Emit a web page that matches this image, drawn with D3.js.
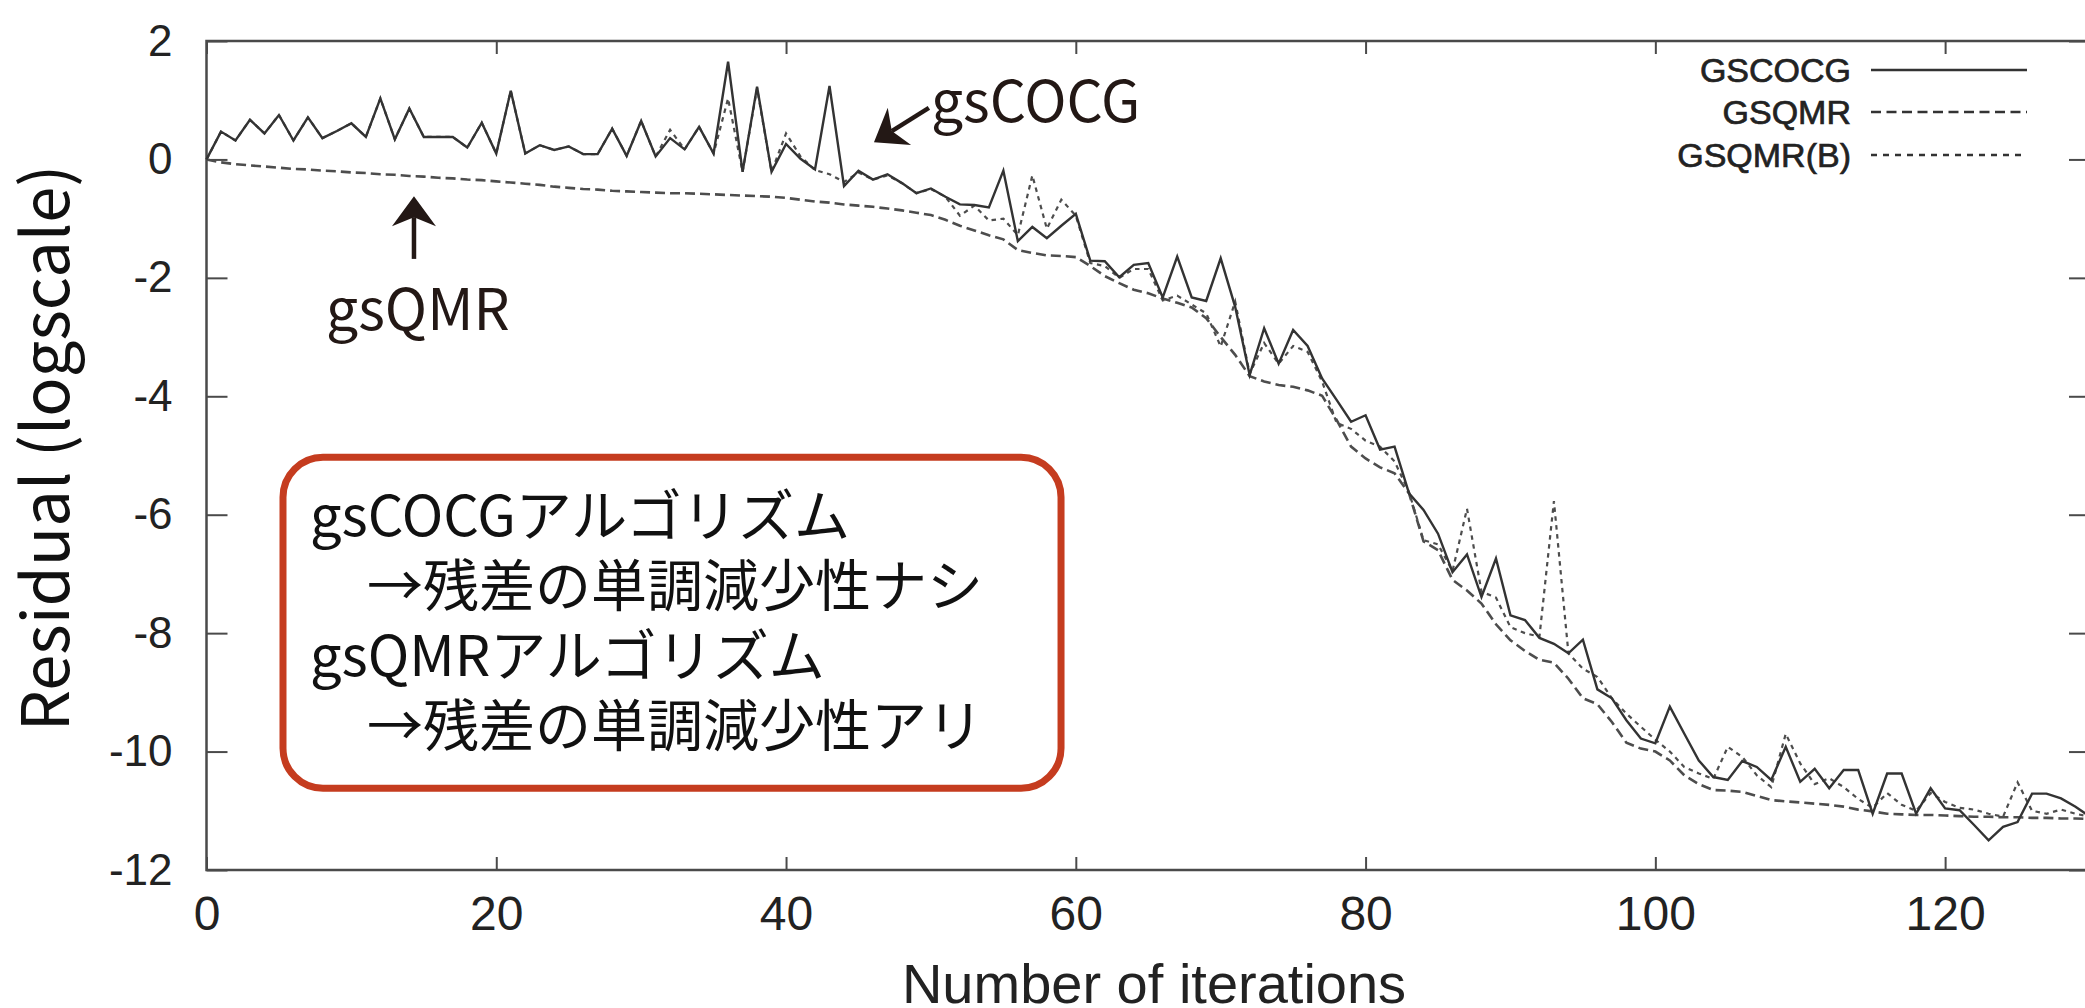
<!DOCTYPE html>
<html><head><meta charset="utf-8">
<script src="https://cdn.jsdelivr.net/npm/d3@7"></script>
<style>
html,body{margin:0;padding:0;background:#fff;}
svg{display:block;}
</style>
</head><body>
<svg id="chart" width="2085" height="1008"></svg>
<script>
// ---------- data ----------
const seriesNames = ["GSCOCG", "GSQMR", "GSQMR(B)"];
const xTicks = [0, 20, 40, 60, 80, 100, 120];
const yTicks = [-12, -10, -8, -6, -4, -2, 0, 2];
const xLabel = "Number of iterations";
const yLabel = "Residual (logscale)";

const gscocg = [
0.00,0.47,0.32,0.67,0.44,0.75,0.32,0.71,0.36,0.48,
0.61,0.38,1.03,0.34,0.86,0.38,0.38,0.38,0.20,0.62,
0.10,1.16,0.10,0.24,0.16,0.22,0.09,0.09,0.52,0.06,
0.65,0.05,0.36,0.17,0.55,0.10,1.65,-0.21,1.23,-0.21,
0.26,0.01,-0.17,1.24,-0.45,-0.19,-0.34,-0.25,-0.40,-0.57,
-0.49,-0.63,-0.76,-0.77,-0.81,-0.19,-1.38,-1.14,-1.33,-1.12,
-0.92,-1.71,-1.72,-1.99,-1.78,-1.75,-2.33,-1.64,-2.33,-2.39,
-1.67,-2.49,-3.64,-2.85,-3.45,-2.88,-3.15,-3.70,-4.06,-4.43,
-4.32,-4.90,-4.85,-5.64,-5.92,-6.32,-6.97,-6.67,-7.39,-6.74,
-7.70,-7.78,-8.08,-8.18,-8.34,-8.11,-8.95,-9.10,-9.47,-9.78,
-9.86,-9.24,-9.70,-10.15,-10.43,-10.48,-10.16,-10.26,-10.48,-9.92,
-10.51,-10.29,-10.62,-10.31,-10.31,-11.05,-10.37,-10.37,-11.05,-10.62,
-10.96,-10.99,-11.24,-11.50,-11.27,-11.19,-10.71,-10.71,-10.79,-10.93,
-11.10
];
const gsqmr = [
0.00,-0.05,-0.08,-0.10,-0.12,-0.14,-0.16,-0.17,-0.19,-0.20,
-0.22,-0.23,-0.25,-0.26,-0.28,-0.29,-0.31,-0.32,-0.34,-0.35,
-0.37,-0.39,-0.41,-0.43,-0.46,-0.48,-0.50,-0.51,-0.53,-0.54,
-0.55,-0.56,-0.57,-0.57,-0.58,-0.59,-0.60,-0.61,-0.62,-0.63,
-0.65,-0.68,-0.71,-0.73,-0.76,-0.78,-0.80,-0.83,-0.86,-0.90,
-0.94,-1.02,-1.12,-1.20,-1.28,-1.35,-1.53,-1.58,-1.62,-1.63,
-1.65,-1.80,-1.97,-2.09,-2.20,-2.26,-2.35,-2.42,-2.50,-2.68,
-3.00,-3.30,-3.66,-3.75,-3.81,-3.84,-3.90,-3.99,-4.40,-4.85,
-5.05,-5.20,-5.30,-5.64,-6.45,-6.60,-7.10,-7.28,-7.50,-7.85,
-8.12,-8.30,-8.45,-8.50,-8.77,-9.10,-9.20,-9.50,-9.85,-9.95,
-10.00,-10.15,-10.40,-10.55,-10.65,-10.66,-10.68,-10.75,-10.82,-10.84,
-10.86,-10.88,-10.90,-10.93,-10.98,-11.01,-11.05,-11.06,-11.07,-11.07,
-11.08,-11.09,-11.10,-11.10,-11.11,-11.11,-11.12,-11.12,-11.13,-11.13,
-11.14
];
const gsqmrB = [
0.00,0.47,0.32,0.67,0.44,0.75,0.32,0.71,0.36,0.48,
0.61,0.38,1.03,0.34,0.86,0.38,0.38,0.38,0.20,0.62,
0.10,1.16,0.10,0.24,0.16,0.22,0.09,0.09,0.52,0.06,
0.65,0.05,0.50,0.17,0.55,0.10,1.03,-0.21,1.20,-0.21,
0.44,0.05,-0.18,-0.25,-0.38,-0.22,-0.34,-0.27,-0.40,-0.57,
-0.50,-0.63,-0.95,-0.78,-1.03,-1.00,-1.28,-0.27,-1.17,-0.68,
-0.95,-1.75,-1.80,-2.00,-1.85,-1.85,-2.38,-2.30,-2.45,-2.60,
-3.16,-2.40,-3.62,-3.10,-3.45,-3.15,-3.25,-3.75,-4.45,-4.55,
-4.75,-4.85,-5.10,-5.62,-6.43,-6.50,-6.95,-5.90,-7.30,-7.40,
-7.90,-8.00,-8.06,-5.77,-8.34,-8.60,-8.74,-9.10,-9.36,-9.58,
-9.80,-10.00,-10.26,-10.37,-10.46,-9.92,-10.09,-10.40,-10.60,-9.70,
-10.20,-10.55,-10.45,-10.60,-10.80,-10.95,-10.70,-10.90,-11.00,-10.70,
-10.85,-10.95,-10.98,-11.05,-11.10,-10.52,-11.00,-11.05,-10.98,-11.05,
-11.10
];

// annotations (in data units)
const boxLines = ["gsCOCGアルゴリズム", "→残差の単調減少性ナシ", "gsQMRアルゴリズム", "→残差の単調減少性アリ"];
const noteCOCG = {text: "gsCOCG", x: 50.0, y: 0.63, tailX: 49.86, tailY: 0.87, tipX: 46.07, tipY: 0.29};
const noteQMR  = {text: "gsQMR",  x: 8.25, y: -2.88, tailX: 14.32, tailY: -1.68, tipX: 14.32, tipY: -0.62};
const boxArea  = {x0: 5.28, x1: 58.98, y0: -5.03, y1: -10.62};

// ---------- drawing ----------
const svg = d3.select("#chart");
svg.append("rect").attr("width", 2085).attr("height", 1008).attr("fill", "#fff");

const x = d3.scaleLinear().domain([0, 130]).range([206.5, 2090]);
const y = d3.scaleLinear().domain([-12, 2]).range([870, 41]);

const tickFont = "'Liberation Sans', Arial, Helvetica, sans-serif";
const jpFont = "'Noto Sans CJK JP', 'Noto Sans', sans-serif";
const axisColor = "#4a4a4a";

function styleAxis(g, size) {
  g.select(".domain").remove();
  g.selectAll(".tick line").attr("stroke", axisColor).attr("stroke-width", 2);
  g.selectAll(".tick text").attr("fill", "#222").style("font-family", tickFont).style("font-size", size + "px");
}

svg.append("g").attr("transform", `translate(0,${y(-12)})`)
  .call(d3.axisBottom(x).tickValues(xTicks).tickSizeInner(-13).tickSizeOuter(0).tickPadding(26).tickFormat(d => String(d)))
  .call(g => styleAxis(g, 48));
svg.append("g").attr("transform", `translate(0,${y(2)})`)
  .call(d3.axisTop(x).tickValues(xTicks).tickSizeInner(-13).tickSizeOuter(0).tickFormat(""))
  .call(g => styleAxis(g, 48));
svg.append("g").attr("transform", `translate(${x(0)},0)`)
  .call(d3.axisLeft(y).tickValues(yTicks).tickSizeInner(-21).tickSizeOuter(0).tickPadding(34).tickFormat(d => String(d)))
  .call(g => styleAxis(g, 44));
svg.append("g").attr("transform", `translate(${x(130)},0)`)
  .call(d3.axisRight(y).tickValues(yTicks).tickSizeInner(-21).tickSizeOuter(0).tickFormat(""))
  .call(g => styleAxis(g, 44));

// frame
svg.append("rect")
  .attr("x", x(0)).attr("y", y(2))
  .attr("width", x(130) - x(0)).attr("height", y(-12) - y(2))
  .attr("fill", "none").attr("stroke", axisColor).attr("stroke-width", 2.5);

// series
const line = d3.line().x((d, i) => x(i)).y(d => y(d));
const styles = [
  {data: gsqmr,  stroke: "#4d4d4d", width: 2.6, dash: "10,5"},
  {data: gsqmrB, stroke: "#4d4d4d", width: 2.2, dash: "4.5,4.5"},
  {data: gscocg, stroke: "#333333", width: 2.4, dash: null}
];
styles.forEach(s => {
  svg.append("path").datum(s.data)
    .attr("d", line)
    .attr("fill", "none")
    .attr("stroke", s.stroke)
    .attr("stroke-width", s.width)
    .attr("stroke-linejoin", "miter")
    .attr("stroke-dasharray", s.dash);
});

// legend
const legendDash = {"GSCOCG": null, "GSQMR": "10,5.5", "GSQMR(B)": "6,6"};
const legendRows = [70, 112, 155];
seriesNames.forEach((name, k) => {
  svg.append("text").attr("x", 1851).attr("y", legendRows[k] + 12)
    .attr("text-anchor", "end").attr("fill", "#222")
    .attr("stroke", "#222").attr("stroke-width", 0.7)
    .style("font-family", tickFont).style("font-size", "34px")
    .text(name);
  svg.append("line").attr("x1", 1871).attr("x2", 2027)
    .attr("y1", legendRows[k]).attr("y2", legendRows[k])
    .attr("stroke", "#333").attr("stroke-width", 2.4)
    .attr("stroke-dasharray", legendDash[name]);
});

// axis titles
svg.append("text").attr("x", 1154).attr("y", 1003).attr("text-anchor", "middle")
  .attr("fill", "#222").style("font-family", tickFont).style("font-size", "56px")
  .text(xLabel);
svg.append("text").attr("transform", "translate(69,448) rotate(-90)").attr("text-anchor", "middle")
  .attr("fill", "#111").style("font-family", jpFont).style("font-size", "65px").style("font-weight", 400)
  .text(yLabel);

// annotation arrows
const ink = "#231815";
function arrow(tx, ty, hx, hy) {
  const dx = hx - tx, dy = hy - ty, len = Math.hypot(dx, dy);
  const ux = dx / len, uy = dy / len, nx = -uy, ny = ux;
  const L = 30, W = 22, N = 9;
  const bx = hx - L * ux, by = hy - L * uy;
  const mx = hx - (L - N) * ux, my = hy - (L - N) * uy;
  svg.append("line").attr("x1", tx).attr("y1", ty).attr("x2", mx).attr("y2", my)
    .attr("stroke", ink).attr("stroke-width", 4.5);
  svg.append("path")
    .attr("d", `M${hx},${hy} L${bx + W * nx},${by + W * ny} L${mx},${my} L${bx - W * nx},${by - W * ny} Z`)
    .attr("fill", ink);
}
[noteCOCG, noteQMR].forEach(n => {
  arrow(x(n.tailX), y(n.tailY), x(n.tipX), y(n.tipY));
  svg.append("text").attr("x", x(n.x)).attr("y", y(n.y)).attr("fill", ink)
    .style("font-family", jpFont).style("font-size", "57px").style("font-weight", 400)
    .text(n.text);
});

// annotation box
const bx0 = x(boxArea.x0), bx1 = x(boxArea.x1), by0 = y(boxArea.y0), by1 = y(boxArea.y1);
svg.append("rect").attr("x", bx0).attr("y", by0).attr("width", bx1 - bx0).attr("height", by1 - by0)
  .attr("rx", 40).attr("ry", 40)
  .attr("fill", "#fff").attr("stroke", "#c53c1f").attr("stroke-width", 7);
const lineIndent = [27, 84, 27, 84];
boxLines.forEach((t, k) => {
  svg.append("text").attr("x", bx0 + lineIndent[k]).attr("y", by0 + 79 + k * 70)
    .attr("fill", "#111").style("font-family", jpFont).style("font-size", "56px").style("font-weight", 400)
    .text(t);
});
</script>
</body></html>
